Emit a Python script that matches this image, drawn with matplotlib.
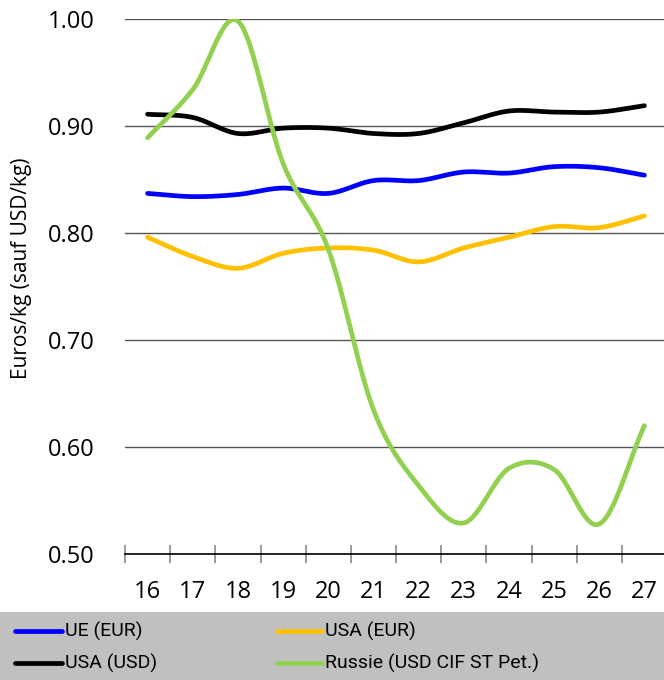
import numpy as np
import matplotlib.pyplot as plt
from matplotlib.patches import Rectangle
from matplotlib.lines import Line2D
from matplotlib import font_manager

# Data
years = ['16', '17', '18', '19', '20', '21', '22', '23', '24', '25', '26', '27']
ue_eur = [0.837, 0.834, 0.836, 0.842, 0.837, 0.849, 0.849, 0.857, 0.856, 0.862, 0.861, 0.854]
usa_eur = [0.796, 0.778, 0.767, 0.781, 0.786, 0.784, 0.773, 0.786, 0.796, 0.806, 0.805, 0.816]
usa_usd = [0.911, 0.908, 0.893, 0.898, 0.898, 0.893, 0.893, 0.903, 0.914, 0.913, 0.913, 0.919]
russie = [0.889, 0.934, 0.998, 0.865, 0.785, 0.635, 0.564, 0.529, 0.580, 0.579, 0.528, 0.620]

labels = ['UE (EUR)', 'USA (EUR)', 'USA (USD)', 'Russie (USD CIF ST Pet.)']
colors = ['#0000ff', '#ffc000', '#000000', '#92d050']
values = [ue_eur, usa_eur, usa_usd, russie]


def pick_font(names):
    avail = {f.name for f in font_manager.fontManager.ttflist}
    for n in names:
        if n in avail:
            return n
    return 'DejaVu Sans'


main_font = pick_font(['Open Sans', 'Noto Sans', 'DejaVu Sans'])
legend_font = pick_font(['Liberation Sans Narrow', 'Roboto', 'Open Sans'])
plt.rcParams['font.family'] = main_font


# Excel-like smoothed line (Catmull-Rom through the data points)
def smooth(y, n=30):
    y = np.asarray(y, dtype=float)
    p = np.concatenate([[2 * y[0] - y[1]], y, [2 * y[-1] - y[-2]]])
    xs, ys = [], []
    t = np.linspace(0, 1, n, endpoint=False)
    for i in range(1, len(p) - 2):
        p0, p1, p2, p3 = p[i - 1], p[i], p[i + 1], p[i + 2]
        seg = 0.5 * ((2 * p1) + (-p0 + p2) * t + (2 * p0 - 5 * p1 + 4 * p2 - p3) * t ** 2
                     + (-p0 + 3 * p1 - 3 * p2 + p3) * t ** 3)
        xs.append(i - 1 + t)
        ys.append(seg)
    xs.append([len(y) - 1])
    ys.append([y[-1]])
    return np.concatenate(xs), np.concatenate(ys)


W, H = 664, 680
fig = plt.figure(figsize=(W / 100, H / 100), dpi=100)
ax = fig.add_axes([125 / W, (H - 554) / H, 542 / W, 535 / H])

for i in [1, 0, 2, 3]:
    sx, sy = smooth(values[i])
    ax.plot(sx, sy, color=colors[i], lw=3.4, solid_capstyle='round', zorder=3)

ax.set_ylim(0.5, 1.0)
ax.set_xlim(-0.5, 11.5)
yt = [0.5, 0.6, 0.7, 0.8, 0.9, 1.0]
ax.set_yticks(yt)
ax.set_yticklabels(['%.2f' % v for v in yt])
ax.yaxis.grid(True, color='#555555', lw=1.0)
ax.set_axisbelow(True)
ax.tick_params(axis='y', length=0, pad=22, labelsize=17)

ax.set_xticks(range(len(years)))
ax.set_xticklabels(years)
ax.set_xticks(np.arange(-0.5, 11.6, 1), minor=True)
ax.tick_params(axis='x', which='major', length=0, pad=19, labelsize=17)
ax.tick_params(axis='x', which='minor', direction='inout', length=13, width=1.2, color='#888888')

for s in ['left', 'right', 'top']:
    ax.spines[s].set_visible(False)
ax.spines['bottom'].set_color('black')
ax.spines['bottom'].set_linewidth(1.2)

fig.text(22 / W, (H - 268) / H, 'Euros/kg (sauf USD/kg)', rotation=90,
         ha='center', va='center', fontsize=15)

# legend band, drawn by hand to sit like the original
fig.patches.append(Rectangle((0, 0), 1, 68 / H, transform=fig.transFigure,
                             facecolor='#c0c0c0', edgecolor='none', zorder=0))
col_x = [(15, 62, 65), (277, 322, 325)]
row_y = [631, 663]
for k in range(4):
    c, r = k % 2, k // 2
    x0, x1, xt = col_x[c]
    yy = (H - row_y[r]) / H
    fig.add_artist(Line2D([x0 / W, x1 / W], [yy, yy], transform=fig.transFigure,
                          color=colors[k], lw=3.4, solid_capstyle='round'))
    fig.text(xt / W, yy, labels[k], ha='left', va='center', fontsize=14,
             family=legend_font)

fig.savefig('out.png', dpi=100)
